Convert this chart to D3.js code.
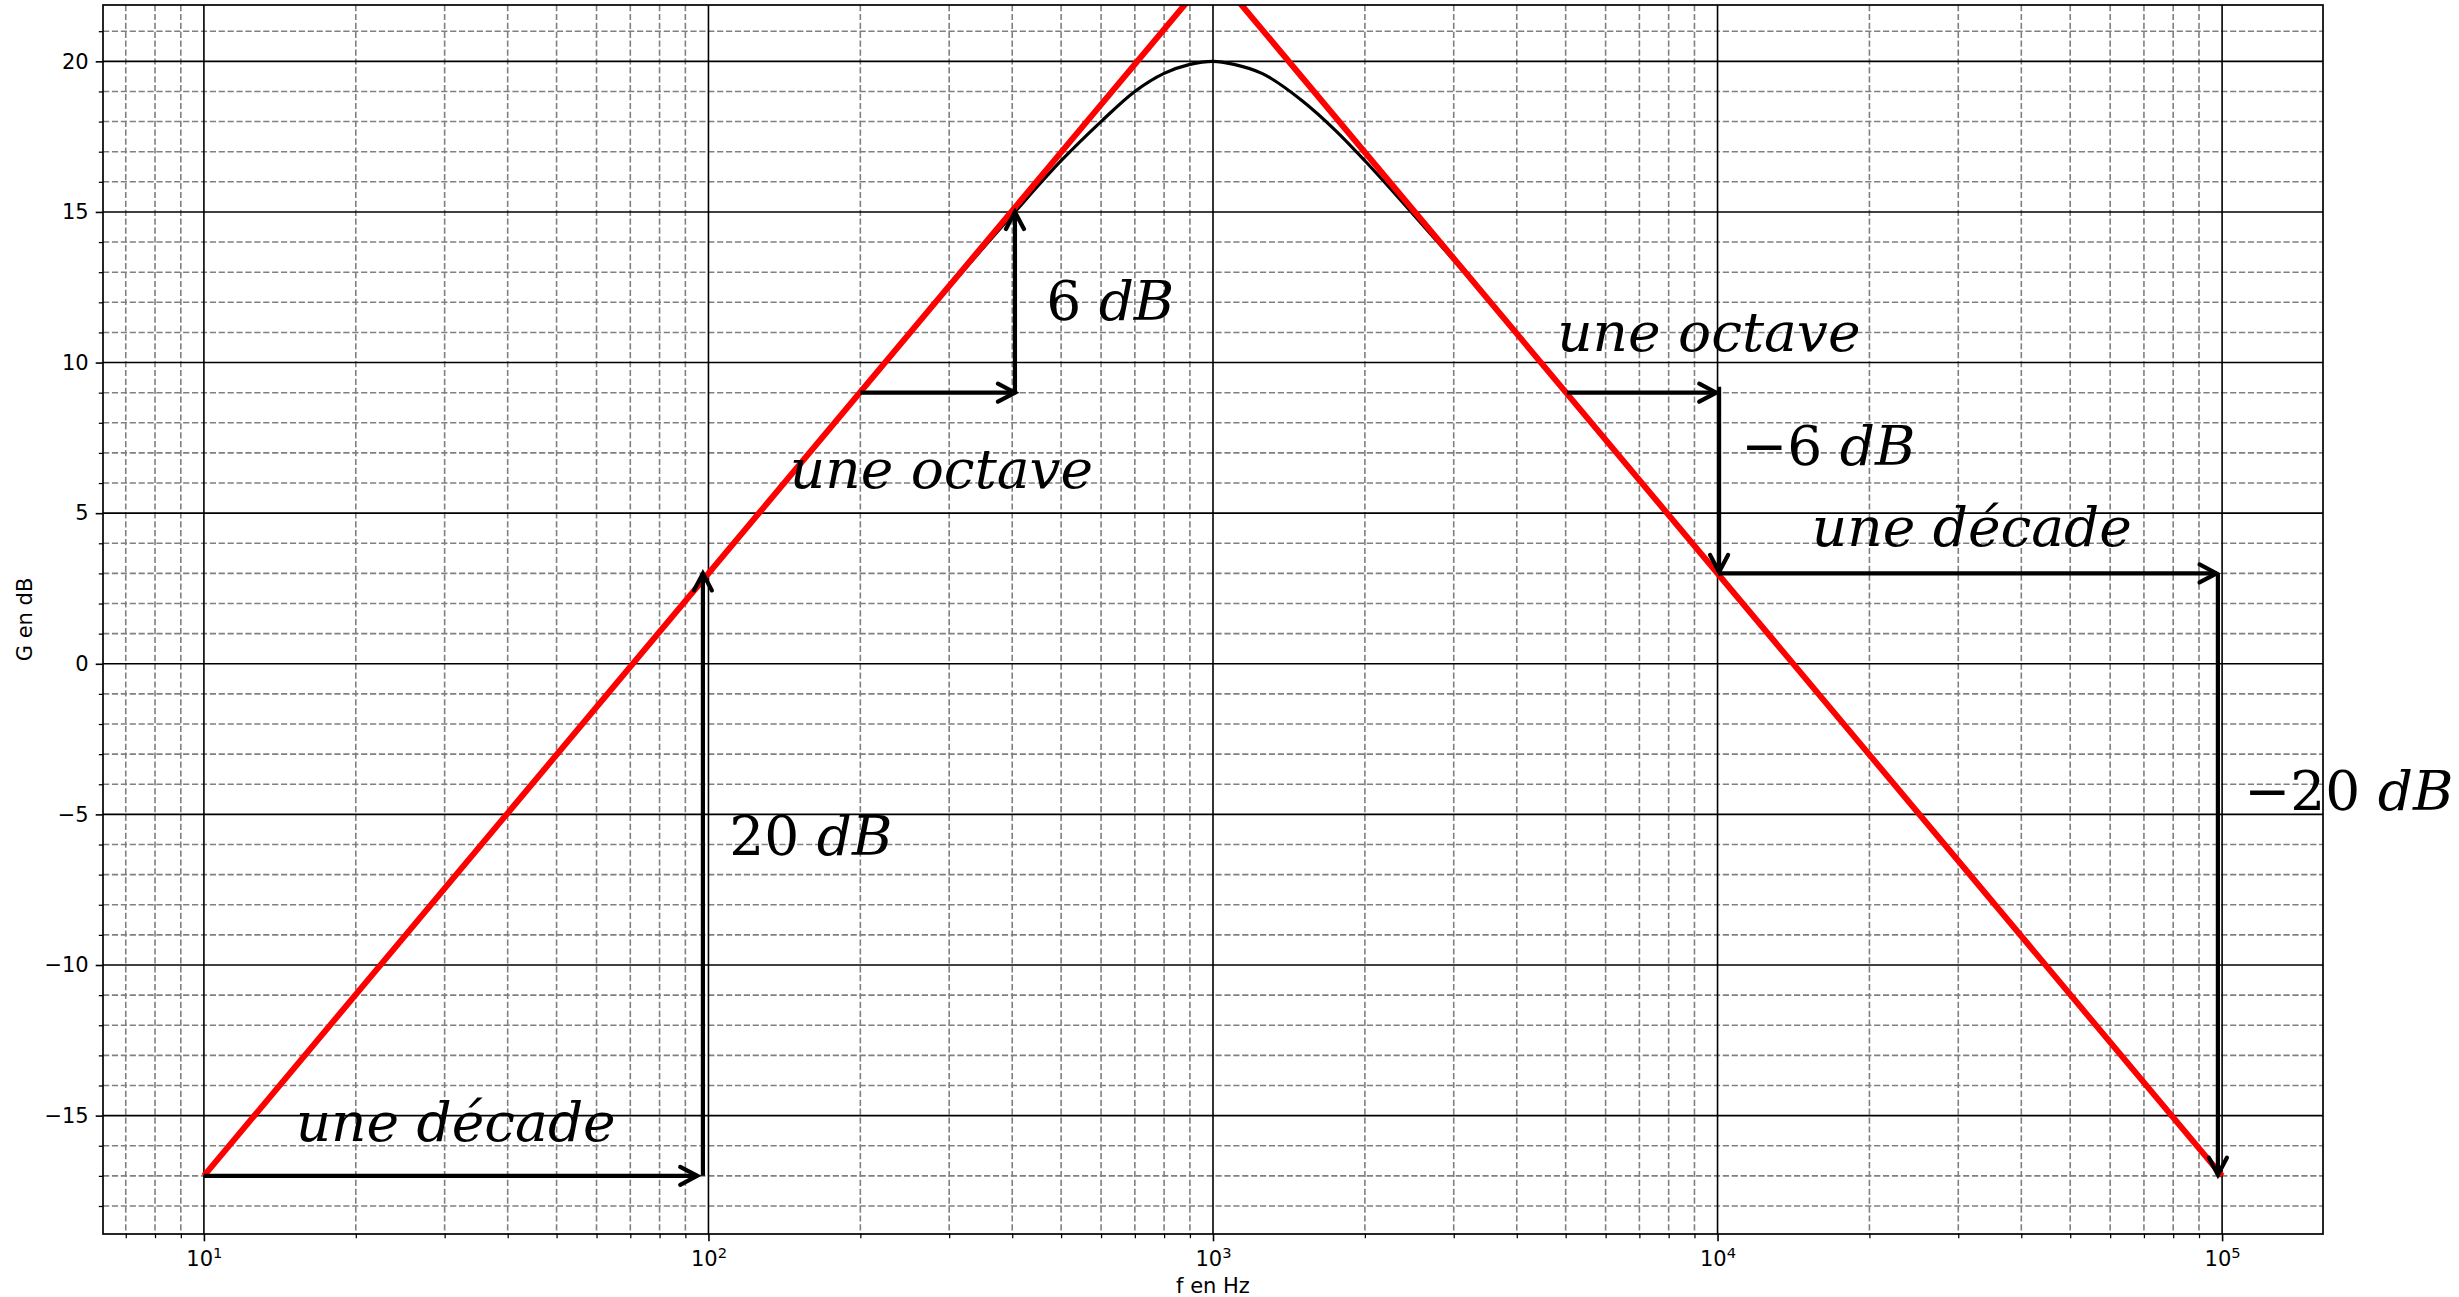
<!DOCTYPE html>
<html>
<head>
<meta charset="utf-8">
<script src="https://cdn.jsdelivr.net/npm/d3@7"></script>
<style>
  body { margin: 0; background: #fff; }
  svg { display: block; }
</style>
</head>
<body>
<svg id="chart" width="2459" height="1297"></svg>
<script>
// Band-pass filter gain (dB) versus frequency (Hz)
const freqHz = [10, 15, 20, 30, 50, 70, 100, 150, 200, 300, 400, 500, 600, 700, 800, 900,
                1000, 1100, 1250, 1500, 1750, 2000, 2500, 3000, 4000, 5000, 7000, 10000,
                15000, 20000, 30000, 50000, 70000, 100000];
const gainDb = [-17.0, -13.5, -11.0, -7.5, -3.0, -0.1, 3.0, 6.5, 9.0, 12.5, 14.9, 16.7, 18.0, 19.0, 19.6, 19.9,
                20.0, 19.9, 19.6, 18.7, 17.7, 16.7, 14.9, 13.4, 11.0, 9.0, 6.1, 3.0,
                -0.5, -3.0, -6.5, -11.0, -13.9, -17.0];

// Asymptotic (straight-line) approximation: +20 dB/decade then -20 dB/decade
const asymFreq = [10, 1000, 100000];
const asymGain = [-17, 23, -17];

// Axis ticks
const xTickExponents = [1, 2, 3, 4, 5];
const yTicks = [-15, -10, -5, 0, 5, 10, 15, 20];

// Slope arrows: start and end points (Hz, dB)
const arrowFrom = [[10, -17], [97.5, -17], [200, 9], [405, 9], [5030, 9], [10070, 9.2], [10070, 3], [98100, 3]];
const arrowTo   = [[95, -17], [97.5, 3], [405, 9], [405, 15], [9940, 9], [10070, 3.05], [97500, 3], [98100, -16.96]];

// Annotations: [text, italic] pieces and their anchor (Hz, dB)
const noteParts = [
  [["une décade", true]],
  [["20 ", false], ["dB", true]],
  [["6 ", false], ["dB", true]],
  [["une octave", true]],
  [["une octave", true]],
  [["\u22126 ", false], ["dB", true]],
  [["une décade", true]],
  [["\u221220 ", false], ["dB", true]]
];
const noteFreq = [15.2, 110, 467, 145, 4810, 11140, 15380, 110600];
const noteGain = [-15.85, -6.35, 11.4, 5.85, 10.4, 6.6, 3.9, -4.85];

// ---------------------------------------------------------------------------
const svg = d3.select("#chart");
const plot = { left: 103, right: 2323, top: 5, bottom: 1234 };

const x = d3.scaleLog().domain([Math.pow(10, 0.8), Math.pow(10, 5.2)]).range([plot.left, plot.right]);
const y = d3.scaleLinear().domain([-18.93, 21.87]).range([plot.bottom, plot.top]);

svg.append("rect").attr("width", 2459).attr("height", 1297).attr("fill", "#fff");

const [xd0, xd1] = x.domain();
const xMajor = xTickExponents.map(e => Math.pow(10, e));
const xMinor = [];
for (let k = 0; k <= 5; k++) {
  for (let m = 2; m <= 9; m++) {
    const v = m * Math.pow(10, k);
    if (v >= xd0 && v <= xd1) xMinor.push(v);
  }
}
const yMinor = d3.range(-18, 22).filter(v => v % 5 !== 0);

// Grid: dashed grey minor lines, solid black major lines
const grid = svg.append("g");
grid.selectAll(".gxm").data(xMinor).join("line")
  .attr("x1", d => x(d)).attr("x2", d => x(d))
  .attr("y1", plot.top).attr("y2", plot.bottom)
  .attr("stroke", "#808080").attr("stroke-width", 1.6).attr("stroke-dasharray", "6.2,2.7");
grid.selectAll(".gym").data(yMinor).join("line")
  .attr("x1", plot.left).attr("x2", plot.right)
  .attr("y1", d => y(d)).attr("y2", d => y(d))
  .attr("stroke", "#808080").attr("stroke-width", 1.6).attr("stroke-dasharray", "6.2,2.7");
grid.selectAll(".gxM").data(xMajor).join("line")
  .attr("x1", d => x(d)).attr("x2", d => x(d))
  .attr("y1", plot.top).attr("y2", plot.bottom)
  .attr("stroke", "#000").attr("stroke-width", 1.6);
grid.selectAll(".gyM").data(yTicks).join("line")
  .attr("x1", plot.left).attr("x2", plot.right)
  .attr("y1", d => y(d)).attr("y2", d => y(d))
  .attr("stroke", "#000").attr("stroke-width", 1.6);

// Clip region for the data lines
svg.append("defs").append("clipPath").attr("id", "plotClip")
  .append("rect").attr("x", plot.left).attr("y", plot.top)
  .attr("width", plot.right - plot.left).attr("height", plot.bottom - plot.top);

const curveData = freqHz.map((f, i) => ({ f, g: gainDb[i] }));
const asymData = asymFreq.map((f, i) => ({ f, g: asymGain[i] }));

const lines = svg.append("g").attr("clip-path", "url(#plotClip)");
lines.append("path").datum(curveData)
  .attr("d", d3.line().x(d => x(d.f)).y(d => y(d.g)).curve(d3.curveMonotoneX))
  .attr("fill", "none").attr("stroke", "#000").attr("stroke-width", 3.2);
lines.append("path").datum(asymData)
  .attr("d", d3.line().x(d => x(d.f)).y(d => y(d.g)))
  .attr("fill", "none").attr("stroke", "#ff0000").attr("stroke-width", 6)
  .attr("stroke-linejoin", "miter");

// Axes (ticks and tick labels)
const tickFont = "'DejaVu Sans', sans-serif";
const xAxis = svg.append("g").attr("transform", `translate(0,${plot.bottom})`)
  .call(d3.axisBottom(x).tickValues(xMajor).tickSize(7.3).tickSizeOuter(0).tickPadding(7).tickFormat(""));
xAxis.select(".domain").remove();
xAxis.selectAll(".tick line").attr("stroke", "#000").attr("stroke-width", 1.6);
xAxis.selectAll(".tick").append("text")
  .attr("fill", "#000").attr("y", 32).attr("text-anchor", "middle")
  .style("font-family", tickFont).style("font-size", "21px")
  .each(function (d) {
    const t = d3.select(this);
    t.append("tspan").text("10");
    t.append("tspan").attr("dy", -8).style("font-size", "14.7px").text(Math.round(Math.log10(d)));
  });
const xMinorAxis = svg.append("g").attr("transform", `translate(0,${plot.bottom})`)
  .call(d3.axisBottom(x).tickValues(xMinor).tickSize(4.2).tickSizeOuter(0).tickFormat(""));
xMinorAxis.select(".domain").remove();
xMinorAxis.selectAll(".tick line").attr("stroke", "#000").attr("stroke-width", 1.25);

const yAxis = svg.append("g").attr("transform", `translate(${plot.left},0)`)
  .call(d3.axisLeft(y).tickValues(yTicks).tickSize(7.3).tickSizeOuter(0).tickPadding(7)
    .tickFormat(d => d < 0 ? "\u2212" + Math.abs(d) : String(d)));
yAxis.select(".domain").remove();
yAxis.selectAll(".tick line").attr("stroke", "#000").attr("stroke-width", 1.6);
yAxis.selectAll(".tick text").attr("fill", "#000")
  .style("font-family", tickFont).style("font-size", "21px");
const yMinorAxis = svg.append("g").attr("transform", `translate(${plot.left},0)`)
  .call(d3.axisLeft(y).tickValues(yMinor).tickSize(4.2).tickSizeOuter(0).tickFormat(""));
yMinorAxis.select(".domain").remove();
yMinorAxis.selectAll(".tick line").attr("stroke", "#000").attr("stroke-width", 1.25);

// Frame
svg.append("rect")
  .attr("x", plot.left).attr("y", plot.top)
  .attr("width", plot.right - plot.left).attr("height", plot.bottom - plot.top)
  .attr("fill", "none").attr("stroke", "#000").attr("stroke-width", 1.7);

// Axis titles
svg.append("text").attr("x", (plot.left + plot.right) / 2).attr("y", 1293)
  .attr("text-anchor", "middle").style("font-family", tickFont).style("font-size", "21px")
  .text("f en Hz");
svg.append("text")
  .attr("transform", `translate(32,${(plot.top + plot.bottom) / 2}) rotate(-90)`)
  .attr("text-anchor", "middle").style("font-family", tickFont).style("font-size", "21px")
  .text("G en dB");

// Arrows with open chevron heads
const arrowG = svg.append("g");
const headLen = 17, headHalf = 9;
arrowFrom.forEach((p0, i) => {
  const p1 = arrowTo[i];
  const x0 = x(p0[0]), y0 = y(p0[1]), x1 = x(p1[0]), y1 = y(p1[1]);
  const len = Math.hypot(x1 - x0, y1 - y0);
  const ux = (x1 - x0) / len, uy = (y1 - y0) / len;
  const bx = x1 - ux * headLen, by = y1 - uy * headLen;
  arrowG.append("line")
    .attr("x1", x0).attr("y1", y0).attr("x2", x1).attr("y2", y1)
    .attr("stroke", "#000").attr("stroke-width", 4.2);
  arrowG.append("path")
    .attr("d", `M${bx - uy * headHalf},${by + ux * headHalf}L${x1},${y1}L${bx + uy * headHalf},${by - ux * headHalf}`)
    .attr("fill", "none").attr("stroke", "#000").attr("stroke-width", 4.2)
    .attr("stroke-linecap", "round").attr("stroke-linejoin", "miter");
});

// Slope annotations
const noteG = svg.append("g")
  .style("font-family", "'DejaVu Serif', serif").style("font-size", "55px").attr("fill", "#000");
noteParts.forEach((parts, i) => {
  const t = noteG.append("text").attr("x", x(noteFreq[i])).attr("y", y(noteGain[i]))
    .attr("xml:space", "preserve");
  parts.forEach(([s, it]) => {
    t.append("tspan").style("font-style", it ? "italic" : "normal").text(s);
  });
});
</script>
</body>
</html>
